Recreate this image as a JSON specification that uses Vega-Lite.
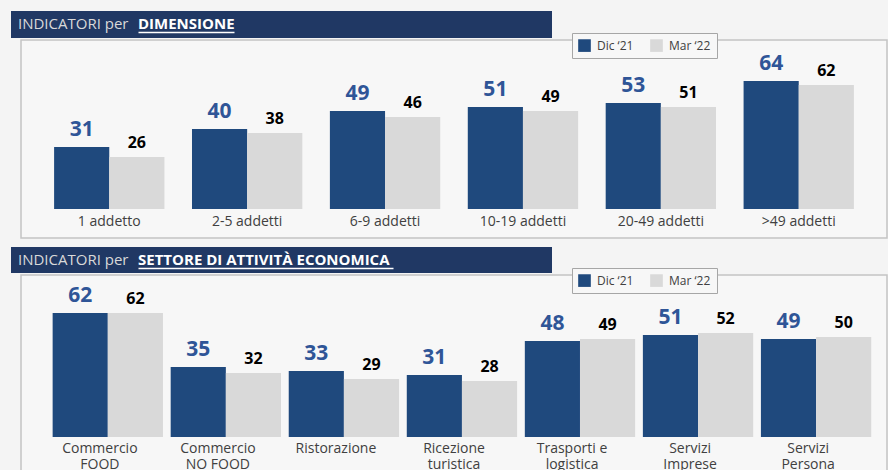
{
  "$schema": "https://vega.github.io/schema/vega-lite/v6.json",
  "padding": {"left": 11, "top": 11, "right": 0, "bottom": 0},
  "background": "#f4f4f4",
  "config": {"font": "Open Sans", "view": {"stroke": null}},
  "datasets": {
    "dim": [
      {"cat": "1 addetto", "serie": "Dic ‘21", "v": 31},
      {"cat": "1 addetto", "serie": "Mar ‘22", "v": 26},
      {"cat": "2-5 addetti", "serie": "Dic ‘21", "v": 40},
      {"cat": "2-5 addetti", "serie": "Mar ‘22", "v": 38},
      {"cat": "6-9 addetti", "serie": "Dic ‘21", "v": 49},
      {"cat": "6-9 addetti", "serie": "Mar ‘22", "v": 46},
      {"cat": "10-19 addetti", "serie": "Dic ‘21", "v": 51},
      {"cat": "10-19 addetti", "serie": "Mar ‘22", "v": 49},
      {"cat": "20-49 addetti", "serie": "Dic ‘21", "v": 53},
      {"cat": "20-49 addetti", "serie": "Mar ‘22", "v": 51},
      {"cat": ">49 addetti", "serie": "Dic ‘21", "v": 64},
      {"cat": ">49 addetti", "serie": "Mar ‘22", "v": 62}
    ],
    "set": [
      {"cat": "Commercio\nFOOD", "serie": "Dic ‘21", "v": 62},
      {"cat": "Commercio\nFOOD", "serie": "Mar ‘22", "v": 62},
      {"cat": "Commercio\nNO FOOD", "serie": "Dic ‘21", "v": 35},
      {"cat": "Commercio\nNO FOOD", "serie": "Mar ‘22", "v": 32},
      {"cat": "Ristorazione", "serie": "Dic ‘21", "v": 33},
      {"cat": "Ristorazione", "serie": "Mar ‘22", "v": 29},
      {"cat": "Ricezione\nturistica", "serie": "Dic ‘21", "v": 31},
      {"cat": "Ricezione\nturistica", "serie": "Mar ‘22", "v": 28},
      {"cat": "Trasporti e\nlogistica", "serie": "Dic ‘21", "v": 48},
      {"cat": "Trasporti e\nlogistica", "serie": "Mar ‘22", "v": 49},
      {"cat": "Servizi\nImprese", "serie": "Dic ‘21", "v": 51},
      {"cat": "Servizi\nImprese", "serie": "Mar ‘22", "v": 52},
      {"cat": "Servizi\nPersona", "serie": "Dic ‘21", "v": 49},
      {"cat": "Servizi\nPersona", "serie": "Mar ‘22", "v": 50}
    ]
  },
  "resolve": {"scale": {"color": "independent"}, "legend": {"color": "independent"}},
  "vconcat": [
    {
      "resolve": {"scale": {"color": "independent"}, "legend": {"color": "independent"}},
      "vconcat": [
        {
          "hconcat": [
            {"width": 122, "height": 27, "view": {"fill": "#203864", "stroke": null}, "data": {"values": [{}]}, "mark": "text",
             "title": {"text": "INDICATORI per", "orient": "top", "anchor": "start", "offset": -33, "baseline": "alphabetic", "dx": 7, "fontSize": 15, "fontWeight": "normal", "color": "#d9d9d9", "font": "Open Sans"}},
            {"width": 103, "height": 27, "view": {"fill": "#203864", "stroke": null}, "data": {"values": [{"v": 0}]}, "mark": "text",
             "encoding": {"x": {"field": "v", "type": "quantitative", "scale": {"domain": [0, 1], "range": [5, 101]}, "axis": {"orient": "bottom", "offset": -6, "labels": false, "ticks": false, "grid": false, "title": null, "domain": true, "domainColor": "#ffffff", "domainWidth": 1.3}}},
             "title": {"text": "DIMENSIONE", "orient": "top", "anchor": "start", "offset": -33, "baseline": "alphabetic", "dx": 5, "fontSize": 15, "fontWeight": "bold", "color": "#ffffff", "font": "Open Sans"}},
            {"width": 316, "height": 27, "view": {"fill": "#203864", "stroke": null}, "data": {"values": [{}]}, "mark": "text"}
          ],
          "spacing": 0, "bounds": "flush"
        },
        {
          "resolve": {"scale": {"color": "independent"}, "legend": {"color": "independent"}},
          "hconcat": [
            {"width": 10, "height": 198, "data": {"values": [{}]}, "mark": "text", "view": {"stroke": null}},
            {
              "width": 866, "height": 198,
              "view": {"fill": "#f7f7f7", "stroke": "#c4c4c4", "strokeWidth": 1.5},
              "data": {"name": "dim"},
              "encoding": {"x": {"field": "cat", "type": "nominal", "sort": null, "scale": {"paddingInner": 0.2, "paddingOuter": 0.24}, "axis": null}},
              "layer": [
                {"mark": {"type": "bar"},
                 "encoding": {
                   "xOffset": {"field": "serie", "type": "nominal", "scale": {"paddingInner": 0, "paddingOuter": 0}},
                   "y": {"field": "v", "type": "quantitative", "scale": {"domain": [-14.5, 84.5], "nice": false, "zero": false}, "axis": null},
                   "y2": {"datum": 0},
                   "color": {"field": "serie", "type": "nominal", "scale": {"domain": ["Dic ‘21", "Mar ‘22"], "range": ["#1f497d", "#d9d9d9"]},
                     "legend": {"orient": "none", "legendX": 551, "legendY": -7, "direction": "horizontal", "title": null, "symbolType": "square", "symbolSize": 160, "symbolStrokeWidth": 0, "labelFont": "Open Sans", "labelFontSize": 12, "labelColor": "#404040", "strokeColor": "#a6a6a6", "fillColor": "#f7f7f7", "padding": 6, "columnPadding": 16, "labelOffset": 6}}
                 }},
                {"transform": [{"filter": {"field": "serie", "equal": "Dic ‘21"}}],
                 "mark": {"type": "text", "baseline": "alphabetic", "dy": -11, "fontSize": 21, "fontWeight": "bold", "color": "#2f5597"},
                 "encoding": {"xOffset": {"field": "serie", "type": "nominal"}, "y": {"field": "v", "type": "quantitative"}, "text": {"field": "v", "type": "quantitative"}}},
                {"transform": [{"filter": {"field": "serie", "equal": "Mar ‘22"}}],
                 "mark": {"type": "text", "baseline": "alphabetic", "dy": -9.5, "fontSize": 16, "fontWeight": "bold", "color": "#000000"},
                 "encoding": {"xOffset": {"field": "serie", "type": "nominal"}, "y": {"field": "v", "type": "quantitative"}, "text": {"field": "v", "type": "quantitative"}}},
                {"transform": [{"filter": {"field": "serie", "equal": "Dic ‘21"}}],
                 "mark": {"type": "text", "baseline": "alphabetic", "dy": 17, "fontSize": 14, "color": "#404040", "lineBreak": "\n", "lineHeight": 16},
                 "encoding": {"y": {"datum": 0}, "text": {"field": "cat"}}}
              ]
            }
          ],
          "spacing": 0, "bounds": "flush"
        }
      ],
      "spacing": -7
    },
    {
      "resolve": {"scale": {"color": "independent"}, "legend": {"color": "independent"}},
      "vconcat": [
        {
          "hconcat": [
            {"width": 122, "height": 26, "view": {"fill": "#203864", "stroke": null}, "data": {"values": [{}]}, "mark": "text",
             "title": {"text": "INDICATORI per", "orient": "top", "anchor": "start", "offset": -33, "baseline": "alphabetic", "dx": 7, "fontSize": 15, "fontWeight": "normal", "color": "#d9d9d9", "font": "Open Sans"}},
            {"width": 265, "height": 26, "view": {"fill": "#203864", "stroke": null}, "data": {"values": [{"v": 0}]}, "mark": "text",
             "encoding": {"x": {"field": "v", "type": "quantitative", "scale": {"domain": [0, 1], "range": [5, 260]}, "axis": {"orient": "bottom", "offset": -5, "labels": false, "ticks": false, "grid": false, "title": null, "domain": true, "domainColor": "#ffffff", "domainWidth": 1.3}}},
             "title": {"text": "SETTORE DI ATTIVITÀ ECONOMICA", "orient": "top", "anchor": "start", "offset": -33, "baseline": "alphabetic", "dx": 5, "fontSize": 15, "fontWeight": "bold", "color": "#ffffff", "font": "Open Sans"}},
            {"width": 154, "height": 26, "view": {"fill": "#203864", "stroke": null}, "data": {"values": [{}]}, "mark": "text"}
          ],
          "spacing": 0, "bounds": "flush"
        },
        {
          "resolve": {"scale": {"color": "independent"}, "legend": {"color": "independent"}},
          "hconcat": [
            {"width": 10, "height": 197, "data": {"values": [{}]}, "mark": "text", "view": {"stroke": null}},
            {
              "width": 866, "height": 197,
              "view": {"fill": "#f7f7f7", "stroke": "#c4c4c4", "strokeWidth": 1.5},
              "data": {"name": "set"},
              "encoding": {"x": {"field": "cat", "type": "nominal", "sort": null, "scale": {"paddingInner": 0.2, "paddingOuter": 0.268}, "axis": null}},
              "layer": [
                {"mark": {"type": "bar"},
                 "encoding": {
                   "xOffset": {"field": "serie", "type": "nominal", "scale": {"paddingInner": 0, "paddingOuter": 0}},
                   "y": {"field": "v", "type": "quantitative", "scale": {"domain": [-17.5, 81], "nice": false, "zero": false}, "axis": null},
                   "y2": {"datum": 0},
                   "color": {"field": "serie", "type": "nominal", "scale": {"domain": ["Dic ‘21", "Mar ‘22"], "range": ["#1f497d", "#d9d9d9"]},
                     "legend": {"orient": "none", "legendX": 551, "legendY": -7, "direction": "horizontal", "title": null, "symbolType": "square", "symbolSize": 160, "symbolStrokeWidth": 0, "labelFont": "Open Sans", "labelFontSize": 12, "labelColor": "#404040", "strokeColor": "#a6a6a6", "fillColor": "#f7f7f7", "padding": 6, "columnPadding": 16, "labelOffset": 6}}
                 }},
                {"transform": [{"filter": {"field": "serie", "equal": "Dic ‘21"}}],
                 "mark": {"type": "text", "baseline": "alphabetic", "dy": -11, "fontSize": 21, "fontWeight": "bold", "color": "#2f5597"},
                 "encoding": {"xOffset": {"field": "serie", "type": "nominal"}, "y": {"field": "v", "type": "quantitative"}, "text": {"field": "v", "type": "quantitative"}}},
                {"transform": [{"filter": {"field": "serie", "equal": "Mar ‘22"}}],
                 "mark": {"type": "text", "baseline": "alphabetic", "dy": -9.5, "fontSize": 16, "fontWeight": "bold", "color": "#000000"},
                 "encoding": {"xOffset": {"field": "serie", "type": "nominal"}, "y": {"field": "v", "type": "quantitative"}, "text": {"field": "v", "type": "quantitative"}}},
                {"transform": [{"filter": {"field": "serie", "equal": "Dic ‘21"}}],
                 "mark": {"type": "text", "baseline": "alphabetic", "dy": 15.5, "fontSize": 14, "color": "#404040", "lineBreak": "\n", "lineHeight": 16},
                 "encoding": {"y": {"datum": 0}, "text": {"field": "cat"}}}
              ]
            }
          ],
          "spacing": 0, "bounds": "flush"
        }
      ],
      "spacing": -7
    }
  ],
  "spacing": 8
}
